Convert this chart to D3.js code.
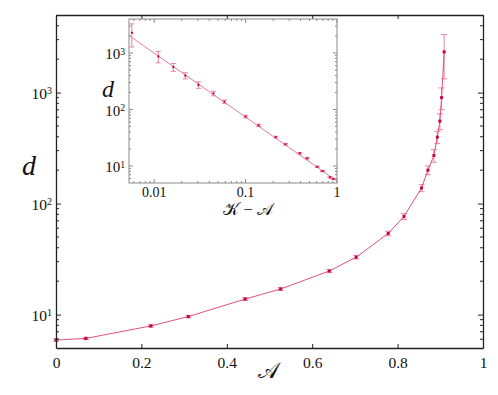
<!DOCTYPE html>
<html>
<head>
<meta charset="utf-8">
<script src="https://cdn.jsdelivr.net/npm/d3@7"></script>
<style>
  body { margin: 0; background: #fff; }
  svg text { font-family: "Liberation Serif", "DejaVu Serif", serif !important; fill: #111; }
</style>
</head>
<body>
<div id="chart"></div>
<script>
// main plot: order parameter A against d
var mainA   = [0, 0.070, 0.222, 0.310, 0.443, 0.526, 0.640, 0.703, 0.778, 0.815, 0.856, 0.871, 0.885, 0.893, 0.899, 0.903, 0.909];
var mainD   = [5.9, 6.1, 7.9, 9.6, 13.8, 17.0, 24.7, 32.9, 53.8, 76.6, 138, 200, 271, 397, 553, 901, 2330];
var mainErr = [0.15, 0.15, 0.2, 0.25, 0.4, 0.5, 0.8, 1.2, 2.5, 4.5, 10, 18, 35, 50, 90, 200, 1000];

// inset: K - A against d (log-log)
var insetX   = [0.0057, 0.0111, 0.0162, 0.0219, 0.0305, 0.0445, 0.0587, 0.1, 0.139, 0.214, 0.273, 0.392, 0.472, 0.608, 0.695, 0.838, 0.912];
var insetD   = [2280, 870, 563, 398, 272, 193, 137, 75, 52.5, 32.4, 24.3, 16.8, 13.7, 9.7, 8.15, 6.3, 5.9];
var insetErr = [1000, 200, 90, 50, 35, 18, 10, 4, 2.5, 1.2, 0.8, 0.5, 0.4, 0.25, 0.2, 0.15, 0.15];
var fitLine  = [[0.0053, 2040], [1, 5.4]];

var mainXTicks = [0, 0.2, 0.4, 0.6, 0.8, 1];
var mainXLabels = ["0", "0.2", "0.4", "0.6", "0.8", "1"];
var insetXTicks = [0.01, 0.1, 1];
var insetXLabels = ["0.01", "0.1", "1"];
var decades = [1, 2, 3];

var lineColor = "#e0507f", dotColor = "#c4063f", errColor = "#e8849f";
var serif = "Liberation Serif, DejaVu Serif, serif";

var svg = d3.select("#chart").append("svg")
    .attr("width", 498).attr("height", 395)
    .attr("font-family", serif);

function superLabel(sel, exp) {
    sel.text("10").append("tspan")
        .attr("dy", "-0.45em").attr("font-size", "0.65em").text(exp);
}

function minorLogTicks(lo, hi) {
    var t = [];
    for (var e = Math.floor(Math.log10(lo)); e <= Math.ceil(Math.log10(hi)); e++) {
        for (var m = 2; m <= 9; m++) {
            var v = m * Math.pow(10, e);
            if (v > lo && v < hi) t.push(v);
        }
    }
    return t;
}

function drawErrors(g, xs, ys, es, x, y, cap) {
    var grp = g.append("g");
    xs.forEach(function (a, i) {
        var lo = Math.max(ys[i] - es[i], y.domain()[0]);
        var hi = ys[i] + es[i];
        var px = x(a);
        grp.append("line").attr("x1", px).attr("x2", px)
            .attr("y1", y(lo)).attr("y2", y(hi))
            .attr("stroke", errColor).attr("stroke-width", 1);
        [lo, hi].forEach(function (v) {
            grp.append("line").attr("x1", px - cap).attr("x2", px + cap)
                .attr("y1", y(v)).attr("y2", y(v))
                .attr("stroke", errColor).attr("stroke-width", 1);
        });
    });
}

// ---------- main plot ----------
var m = {left: 56, top: 15, right: 483, bottom: 348};
var x = d3.scaleLinear().domain([0, 1]).range([m.left, m.right]);
var y = d3.scaleLog().domain([5, 5000]).range([m.bottom, m.top]);

var gMain = svg.append("g");
var axisColor = "#222";

gMain.append("g").attr("transform", "translate(0," + m.bottom + ")")
    .call(d3.axisBottom(x).tickValues(mainXTicks).tickSizeInner(-4).tickSizeOuter(0)
        .tickFormat(function (d, i) { return mainXLabels[i]; }))
    .call(function (g) {
        g.attr("font-family", serif);
        g.select(".domain").attr("stroke", axisColor).attr("stroke-width", 1.3);
        g.selectAll(".tick line").attr("stroke", axisColor);
        g.selectAll(".tick text").attr("y", 9).attr("font-size", 15.5);
    });
gMain.append("g").attr("transform", "translate(0," + m.top + ")")
    .call(d3.axisTop(x).tickValues(mainXTicks).tickSizeInner(-4).tickSizeOuter(0).tickFormat(""))
    .call(function (g) {
        g.select(".domain").attr("stroke", axisColor).attr("stroke-width", 1.3);
        g.selectAll(".tick line").attr("stroke", axisColor);
    });

var mainMinor = minorLogTicks(5, 5000);
[[m.left, d3.axisLeft, -1], [m.right, d3.axisRight, 1]].forEach(function (s) {
    var ax = svg.append("g").attr("transform", "translate(" + s[0] + ",0)")
        .call(s[1](y).tickValues(decades.map(function (e) { return Math.pow(10, e); }))
            .tickSizeInner(-5).tickSizeOuter(0).tickFormat(""));
    ax.select(".domain").attr("stroke", axisColor).attr("stroke-width", 1.3);
    ax.selectAll(".tick line").attr("stroke", axisColor);
    ax.selectAll(".minor").data(mainMinor).enter().append("line")
        .attr("x1", 0).attr("x2", -3 * s[2])
        .attr("y1", function (d) { return y(d); }).attr("y2", function (d) { return y(d); })
        .attr("stroke", axisColor);
});
svg.selectAll(".ylab").data(decades).enter().append("text")
    .attr("x", m.left - 4).attr("y", function (d) { return y(Math.pow(10, d)) + 6; })
    .attr("text-anchor", "end").attr("font-size", 15.5)
    .each(function (d) { superLabel(d3.select(this), d); });

var line = d3.line()
    .x(function (d) { return x(d[0]); })
    .y(function (d) { return y(d[1]); });
var mainPts = mainA.map(function (a, i) { return [a, mainD[i]]; });
drawErrors(gMain, mainA, mainD, mainErr, x, y, 3);
gMain.append("path").attr("d", line(mainPts))
    .attr("fill", "none").attr("stroke", lineColor).attr("stroke-width", 1);
gMain.selectAll(".dot").data(mainPts).enter().append("rect")
    .attr("x", function (d) { return x(d[0]) - 1.5; })
    .attr("y", function (d) { return y(d[1]) - 1.5; })
    .attr("width", 3).attr("height", 3).attr("fill", dotColor);

svg.append("text").attr("x", 22).attr("y", 175)
    .attr("font-size", 28).attr("font-style", "italic").text("d");
svg.append("text").attr("x", 268).attr("y", 378).attr("text-anchor", "middle")
    .attr("font-size", 22).text("\uD835\uDC9C");

// ---------- inset ----------
var n = {left: 129, top: 19, right: 337, bottom: 183};
var xi = d3.scaleLog().domain([0.0053, 1]).range([n.left, n.right]);
var yi = d3.scaleLog().domain([5, 4000]).range([n.bottom, n.top]);
var gIn = svg.append("g");
var inColor = "#8a8a8a";

gIn.append("rect").attr("x", n.left).attr("y", n.top)
    .attr("width", n.right - n.left).attr("height", n.bottom - n.top)
    .attr("fill", "#fff").attr("stroke", inColor).attr("stroke-width", 1);

var inMinorX = minorLogTicks(0.0053, 1);
var inMinorY = minorLogTicks(5, 4000);
[n.bottom, n.top].forEach(function (yy, k) {
    var dir = k === 0 ? -1 : 1;
    gIn.selectAll(null).data(insetXTicks).enter().append("line")
        .attr("x1", function (d) { return xi(d); }).attr("x2", function (d) { return xi(d); })
        .attr("y1", yy).attr("y2", yy + 4 * dir).attr("stroke", inColor);
    gIn.selectAll(null).data(inMinorX).enter().append("line")
        .attr("x1", function (d) { return xi(d); }).attr("x2", function (d) { return xi(d); })
        .attr("y1", yy).attr("y2", yy + 2 * dir).attr("stroke", inColor);
});
[n.left, n.right].forEach(function (xx, k) {
    var dir = k === 0 ? 1 : -1;
    gIn.selectAll(null).data(decades).enter().append("line")
        .attr("x1", xx).attr("x2", xx + 4 * dir)
        .attr("y1", function (d) { return yi(Math.pow(10, d)); })
        .attr("y2", function (d) { return yi(Math.pow(10, d)); }).attr("stroke", inColor);
    gIn.selectAll(null).data(inMinorY).enter().append("line")
        .attr("x1", xx).attr("x2", xx + 2 * dir)
        .attr("y1", function (d) { return yi(d); }).attr("y2", function (d) { return yi(d); })
        .attr("stroke", inColor);
});
gIn.selectAll(null).data(insetXTicks).enter().append("text")
    .attr("x", function (d) { return xi(d); }).attr("y", n.bottom + 14)
    .attr("text-anchor", "middle").attr("font-size", 14)
    .text(function (d, i) { return insetXLabels[i]; });
gIn.selectAll(null).data(decades).enter().append("text")
    .attr("x", n.left - 4).attr("y", function (d) { return yi(Math.pow(10, d)) + 6; })
    .attr("text-anchor", "end").attr("font-size", 15)
    .each(function (d) { superLabel(d3.select(this), d); });

var li = d3.line()
    .x(function (d) { return xi(d[0]); })
    .y(function (d) { return yi(d[1]); });
drawErrors(gIn, insetX, insetD, insetErr, xi, yi, 2.5);
gIn.append("path").attr("d", li(fitLine))
    .attr("fill", "none").attr("stroke", "#e87a9f").attr("stroke-width", 1);
gIn.selectAll(".idot").data(insetX).enter().append("rect")
    .attr("x", function (d) { return xi(d) - 1; })
    .attr("y", function (d, i) { return yi(insetD[i]) - 1; })
    .attr("width", 2).attr("height", 2).attr("fill", dotColor);

gIn.append("text").attr("x", 102).attr("y", 97)
    .attr("font-size", 24).attr("font-style", "italic").text("d");
gIn.append("text").attr("x", 248).attr("y", 215).attr("text-anchor", "middle")
    .attr("font-size", 17).text("\uD835\uDCA6 \u2212 \uD835\uDC9C");
</script>
</body>
</html>
